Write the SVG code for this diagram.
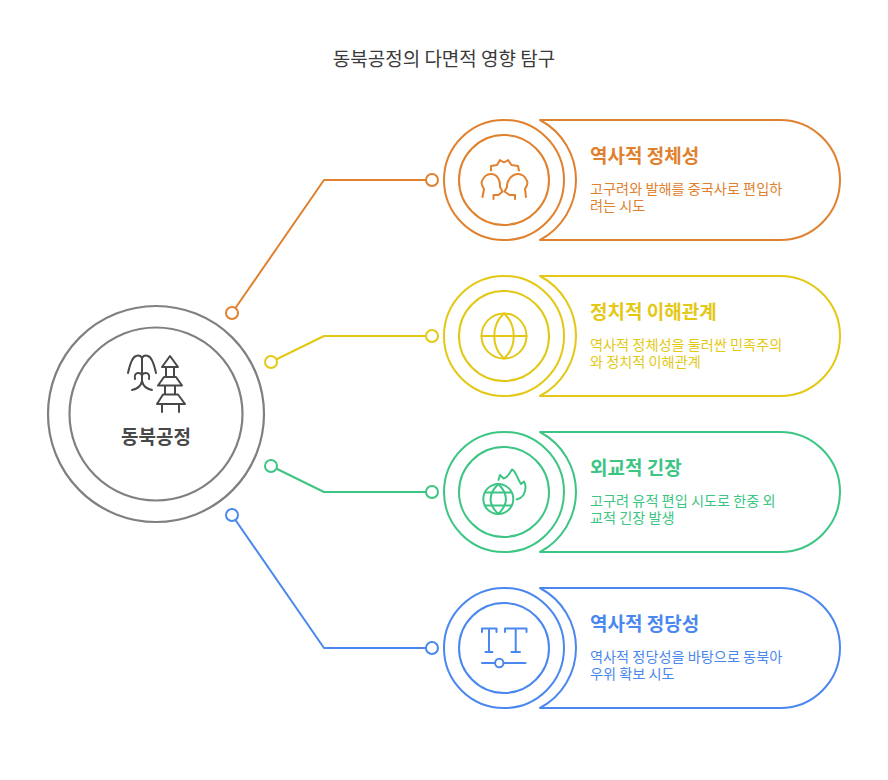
<svg xmlns="http://www.w3.org/2000/svg" width="888" height="780" viewBox="0 0 888 780">
<style>
text{font-family:"Noto Sans CJK KR","Noto Sans",sans-serif}
.title{font-size:19px;fill:#3a3a3a;text-anchor:middle}
.head{font-size:19px;font-weight:700}
.desc{font-size:14.2px}
.ln{fill:none;stroke-width:2;stroke-linecap:round;stroke-linejoin:round}
.o{stroke:#E0812F}.y{stroke:#E3C815}.g{stroke:#3CC583}.b{stroke:#4A87EE}
.to{fill:#E0812F}.ty{fill:#E3C815}.tg{fill:#3CC583}.tb{fill:#4A87EE}
.dot{fill:#fff;stroke-width:2}
.gr{stroke:#808080;fill:none;stroke-width:2.2}
.ic{fill:none;stroke:#484848;stroke-width:2;stroke-linecap:round;stroke-linejoin:round}
</style>
<text class="title" x="444" y="65.500">동북공정의 다면적 영향 탐구</text>
<g id="connectors">
<path class="ln o" d="M232 313 L324 180 H432"/>
<path class="ln y" d="M271 362 L324 336 H432"/>
<path class="ln g" d="M271 466 L324 492 H432"/>
<path class="ln b" d="M232 515 L324 648 H432"/>
<circle class="dot o" cx="232" cy="313" r="6"/>
<circle class="dot y" cx="271" cy="362" r="6"/>
<circle class="dot g" cx="271" cy="466" r="6"/>
<circle class="dot b" cx="232" cy="515" r="6"/>
<circle class="dot o" cx="432" cy="180" r="6"/>
<circle class="dot y" cx="432" cy="336" r="6"/>
<circle class="dot g" cx="432" cy="492" r="6"/>
<circle class="dot b" cx="432" cy="648" r="6"/>
</g>
<g id="center">
<circle class="gr" cx="156" cy="414" r="108"/>
<circle class="gr" cx="156" cy="414" r="86.500"/>
<path class="ic" d="M128 373 C130 364 132 357 136 356 C139 355 141 356 142 358 C143 356 145 355 148 356 C152 357 154 364 156 373"/>
<path class="ic" d="M142 358 V381 C141 386 137 389 132 390 M142 381 C143 386 147 389 152 390"/>
<path class="ic" d="M135 379 C134 375 136 373 138 373 C140 373 142 374 142 376 C142 374 144 373 146 373 C148 373 150 375 149 379"/>
<path class="ic" d="M170 356 L162 367 H178 Z M166 367 V377 H174 V367 M164 377 L158 385.500 H182 L176 377 Z M165 385.500 V394.500 H175 V385.500 M163 394.500 L157 404 H185 L178 394.500 Z M162 404 V412 M179 404 V412"/>
<text x="156" y="444" text-anchor="middle" font-size="19" font-weight="700" fill="#484848">동북공정</text>
</g>
<g id="node-1">
<path class="ln o" d="M540 120 H780 A60 60 0 0 1 780 240 H540 A68 68 0 0 0 540 120 Z"/>
<circle class="ln o" cx="504" cy="180" r="60"/>
<circle class="ln o" cx="504" cy="180" r="45"/>
<path class="ln o" d="M491 170.500 V166 L497 165 L500 160 L504 162.500 L508 160 L511.500 165 L518 166 L519 170.500"/>
<path class="ln o" d="M482.500 197 L484 189 C482 186 481 183 482 181 C484 176 488 174 491 174 C497 174 500 180 500 185 V187 L502.500 191.500 L498.500 195 H493.500 V199"/>
<path class="ln o" d="M526 197 L525 189 C527 186 528 183 527 181 C525 176 521 174 518 174 C512 174 507.500 180 507 185 V187 L504.500 191.500 L509.500 195 H515 V199"/>
<text class="head to" x="590" y="163">역사적 정체성</text>
<text class="desc to" x="590" y="193.500">고구려와 발해를 중국사로 편입하<tspan x="590" dy="17.500">려는 시도</tspan></text>
</g>
<g id="node-2">
<path class="ln y" d="M540 276 H780 A60 60 0 0 1 780 396 H540 A68 68 0 0 0 540 276 Z"/>
<circle class="ln y" cx="504" cy="336" r="60"/>
<circle class="ln y" cx="504" cy="336" r="45"/>
<circle class="ln y" cx="504" cy="336" r="22.500"/>
<path class="ln y" d="M481.500 336 H526.500 M504 313.500 C491 325 491 347 504 358.500 C517 347 517 325 504 313.500 Z"/>
<text class="head ty" x="590" y="319">정치적 이해관계</text>
<text class="desc ty" x="590" y="349.500">역사적 정체성을 둘러싼 민족주의<tspan x="590" dy="17.500">와 정치적 이해관계</tspan></text>
</g>
<g id="node-3">
<path class="ln g" d="M540 432 H780 A60 60 0 0 1 780 552 H540 A68 68 0 0 0 540 432 Z"/>
<circle class="ln g" cx="504" cy="492" r="60"/>
<circle class="ln g" cx="504" cy="492" r="45"/>
<circle class="ln g" cx="498.300" cy="499" r="15"/>
<path class="ln g" d="M485 492.500 H511.500 M485 505.500 H511.500 M498.300 484 C488 494 488 504 498.300 514 C508.500 504 508.500 494 498.300 484 Z"/>
<path class="ln g" d="M498.500 480 L500 475 L503.500 478.500 C506 478 510 473 512 469.500 C515 470 517 477 519.500 481.500 L521 484 L524 481.500 C526 485 526 490 523.500 495 C522 497 519 499 516.700 499.500"/>
<text class="head tg" x="590" y="475">외교적 긴장</text>
<text class="desc tg" x="590" y="505.500">고구려 유적 편입 시도로 한중 외<tspan x="590" dy="17.500">교적 긴장 발생</tspan></text>
</g>
<g id="node-4">
<path class="ln b" d="M540 588 H780 A60 60 0 0 1 780 708 H540 A68 68 0 0 0 540 588 Z"/>
<circle class="ln b" cx="504" cy="648" r="60"/>
<circle class="ln b" cx="504" cy="648" r="45"/>
<path class="ln b" d="M482 632 V628.500 H496.500 V632 M485.500 652 H492.500 M489 628.500 V652 M505 632 V628.500 H526.500 V632 M511.500 652 H520 M515.700 628.500 V652"/>
<path class="ln b" d="M482 663 H495 M503.500 663 H525.500"/>
<circle class="ln b" cx="499.300" cy="663" r="4.200"/>
<text class="head tb" x="590" y="631">역사적 정당성</text>
<text class="desc tb" x="590" y="661.500">역사적 정당성을 바탕으로 동북아<tspan x="590" dy="17.500">우위 확보 시도</tspan></text>
</g>
</svg>
